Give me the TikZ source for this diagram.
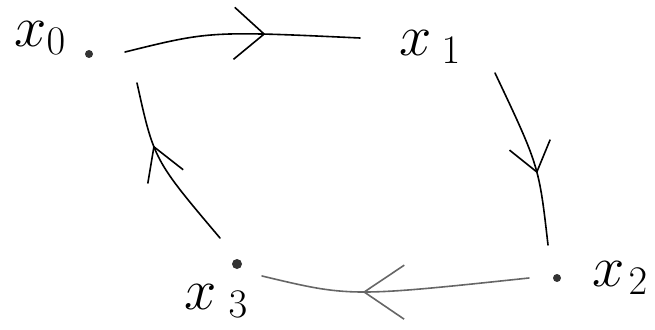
\RequirePackage{fix-cm}
\documentclass[tikz,border=0pt]{standalone}
\usetikzlibrary{arrows.meta,decorations.markings,calc}
\tikzset{
  tipT/.tip={Straight Barb[length=30pt,width=52pt]},
  tipR/.tip={Straight Barb[length=28pt,width=42pt]},
  tipB/.tip={Straight Barb[length=40pt,width=54pt]},
  tipL/.tip={Straight Barb[length=32pt,width=38pt]},
}
\begin{document}
\begin{tikzpicture}[x=1pt,y=-1pt,
  dot/.style={circle,fill=black!80,inner sep=0pt,minimum size=#1},
  dot/.default=8pt,
  lab/.style={inner sep=0pt,font=\fontsize{58}{58}\selectfont},
  conn/.style={line width=1.6pt,line cap=round},
  midarrow/.style 2 args={postaction={decorate},
    decoration={markings,mark=at position #1 with {\arrow[line width=1.6pt]{#2}}}},
]
\useasboundingbox (0,0) rectangle (655,329);
% points and labels
\node[dot] (p0) at (89,54) {};
\node[lab] (l0) at (40,38) {$x_0$};
\node[lab] (l1) at (430,47) {$x_{\kern10pt 1}$};
\node[dot] (p2) at (557,278) {};
\node[lab] (l2) at (620,278) {$x_{\kern4pt 2}$};
\node[dot=10pt] (p3) at (237,264) {};
\node[lab] (l3) at (216,301) {$x_{\kern12pt 3}$};
% connectors
\draw[conn,midarrow={0.6}{tipT}]
  ($(p0.center)+(36,-2)$) .. controls (210,31) .. ($(l1.center)+(-70,-9)$);
\draw[conn,midarrow={0.6}{tipR}]
  ($(l1.center)+(65,26)$) .. controls (539,166) .. ($(p2.center)+(-9,-33)$);
\draw[conn,black!60,midarrow={0.62}{tipB}]
  ($(p2.center)+(-28,0)$) .. controls (350,297) .. ($(p3.center)+(25,12)$);
\draw[conn,midarrow={0.64}{tipL}]
  ($(p3.center)+(-17,-26)$) .. controls (154,160) .. ($(p0.center)+(48,29)$);
\end{tikzpicture}
\end{document}
